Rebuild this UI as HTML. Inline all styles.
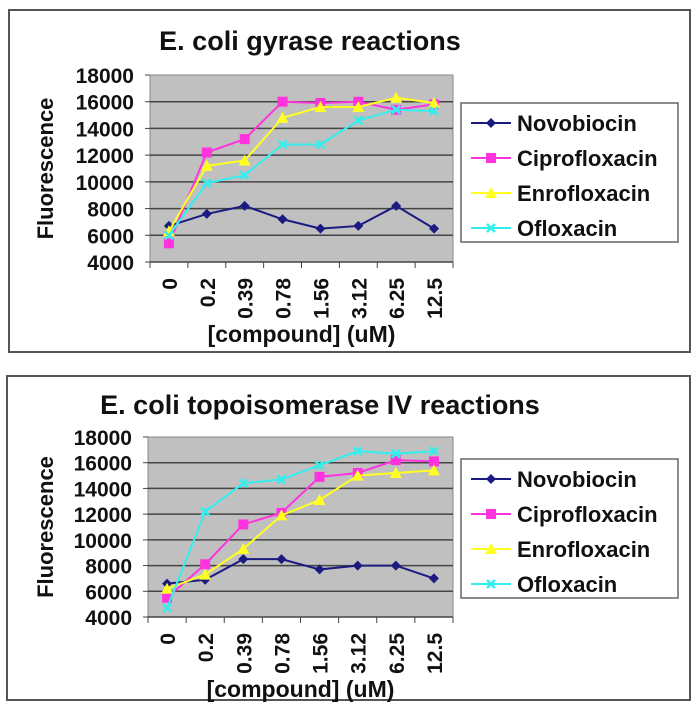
<!DOCTYPE html><html><head><style>body{margin:0;background:#fff}svg{display:block}text{font-family:"Liberation Sans",Arial,sans-serif;font-weight:bold;fill:#111}</style></head><body>
<svg id="s" width="697" height="710" xmlns="http://www.w3.org/2000/svg"></svg>
<script>
const s=document.getElementById('s');let h='';
const cols=['#1a1a80','#ff33dd','#ffff22','#33eeee'];
const names=['Novobiocin','Ciprofloxacin','Enrofloxacin','Ofloxacin'];
const cats=['0','0.2','0.39','0.78','1.56','3.12','6.25','12.5'];
function mk(t,x,y,c){
 if(t==0)return `<path d="M${x} ${y-5}L${x+5} ${y}L${x} ${y+5}L${x-5} ${y}Z" fill="${c}"/>`;
 if(t==1)return `<rect x="${x-5}" y="${y-5}" width="10" height="10" fill="${c}"/>`;
 if(t==2)return `<path d="M${x} ${y-6}L${x+6} ${y+5}L${x-6} ${y+5}Z" fill="${c}"/>`;
 return `<path d="M${x-4} ${y-4}L${x+4} ${y+4}M${x+4} ${y-4}L${x-4} ${y+4}" stroke="${c}" stroke-width="2.5"/>`;
}
function chart(bx,by,bw,bh,title,tx,ty,L,T,R,B,data,lg){
 h+=`<rect x="${bx}" y="${by}" width="${bw}" height="${bh}" fill="#fff" stroke="#555" stroke-width="2"/>`;
 h+=`<text x="${tx}" y="${ty}" font-size="27" text-anchor="middle">${title}</text>`;
 h+=`<rect x="${L}" y="${T}" width="${R-L}" height="${B-T}" fill="#c0c0c0" stroke="#888"/>`;
 const yv=v=>B-(v-4000)/14000*(B-T);
 for(let v=4000;v<=18000;v+=2000){const y=yv(v);
  if(v>4000&&v<18000)h+=`<line x1="${L}" x2="${R}" y1="${y}" y2="${y}" stroke="#444" stroke-width="1.5"/>`;
  h+=`<line x1="${L-5}" x2="${L}" y1="${y}" y2="${y}" stroke="#444"/>`;
  h+=`<text x="${L-16}" y="${y+8}" font-size="21" text-anchor="end">${v}</text>`;}
 const cw=(R-L)/8;
 h+=`<line x1="${L}" x2="${R}" y1="${B}" y2="${B}" stroke="#444" stroke-width="1.5"/>`;
 for(let i=0;i<=8;i++)h+=`<line x1="${L+i*cw}" x2="${L+i*cw}" y1="${B}" y2="${B+6}" stroke="#444"/>`;
 cats.forEach((c,i)=>{const x=L+(i+0.5)*cw+8;h+=`<text transform="translate(${x},${B+16}) rotate(-90)" font-size="21" text-anchor="end">${c}</text>`;});
 h+=`<text x="${(L+R)/2}" y="${B+80}" font-size="23" text-anchor="middle">[compound] (uM)</text>`;
 h+=`<text transform="translate(53,${(T+B)/2}) rotate(-90)" font-size="22" text-anchor="middle">Fluorescence</text>`;
 data.forEach((d,k)=>{const p=d.map((v,i)=>[L+(i+0.5)*cw,yv(v)]);
  h+=`<polyline points="${p.map(q=>q.join(',')).join(' ')}" fill="none" stroke="${cols[k]}" stroke-width="2"/>`;
  p.forEach(q=>h+=mk(k,q[0],q[1],cols[k]));});
 h+=`<rect x="461" y="${lg}" width="217" height="139" fill="#fff" stroke="#666" stroke-width="1.5"/>`;
 names.forEach((n,k)=>{const y=lg+20+k*35;h+=`<line x1="471" x2="511" y1="${y}" y2="${y}" stroke="${cols[k]}" stroke-width="2"/>`+mk(k,491,y,cols[k])+`<text x="517" y="${y+8}" font-size="22">${n}</text>`;});
}
chart(9,10,681,342,'E. coli gyrase reactions',310,50,150,75,453,262,[
[6700,7600,8200,7200,6500,6700,8200,6500],
[5400,12200,13200,16000,15900,16000,15400,15800],
[6300,11200,11600,14800,15600,15600,16300,15900],
[6000,9900,10500,12800,12800,14600,15400,15300]],103);
chart(7,376,683,324,'E. coli topoisomerase IV reactions',320,414,148,437,453,617,[
[6600,6900,8500,8500,7700,8000,8000,7000],
[5500,8100,11200,12100,14900,15200,16200,16100],
[6200,7300,9300,11900,13100,15000,15200,15400],
[4700,12200,14400,14700,15800,16900,16700,16900]],459);
s.innerHTML=h;
</script></body></html>
